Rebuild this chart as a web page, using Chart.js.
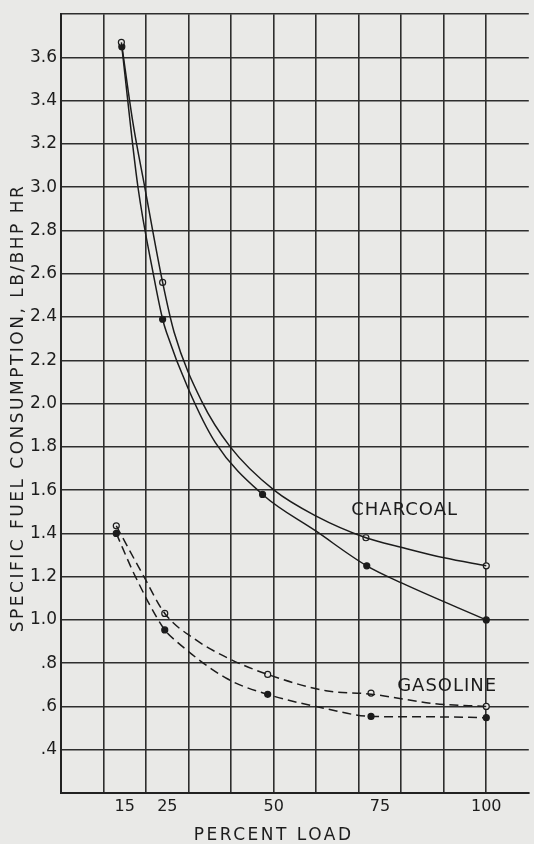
<!DOCTYPE html>
<html>
<head>
<meta charset="utf-8">
<script src="https://cdn.jsdelivr.net/npm/chart.js@4.4.1/dist/chart.umd.min.js"></script>
<style>
  html, body { margin: 0; padding: 0; background: #e9e9e7; }
  #wrap { position: relative; width: 534px; height: 844px; overflow: hidden; }
</style>
</head>
<body>
<div id="wrap"><canvas id="sfc"></canvas></div>
<script>
// plotted test points (percent load vs lb/bhp hr)
const charcoalOpenLoad = [14.2, 23.9, 71.7, 100];
const charcoalOpenSfc = [3.67, 2.56, 1.38, 1.25];
const charcoalDotLoad = [14.3, 23.9, 47.4, 71.9, 100];
const charcoalDotSfc = [3.65, 2.39, 1.58, 1.25, 1.00];
const gasolineOpenLoad = [13, 24.4, 48.6, 72.9, 100];
const gasolineOpenSfc = [1.435, 1.03, 0.748, 0.662, 0.60];
const gasolineDotLoad = [13, 24.4, 48.6, 72.9, 100];
const gasolineDotSfc = [1.40, 0.954, 0.656, 0.554, 0.548];

// the hand-faired curves
const charcoalUpperLoad = [14.2, 16.9, 19.7, 23.9, 26.6, 33.1, 39.8, 50.1, 60, 71.7, 80.2, 90.1, 100];
const charcoalUpperSfc = [3.67, 3.30, 3.00, 2.56, 2.33, 2.01, 1.80, 1.60, 1.48, 1.38, 1.335, 1.287, 1.25];
const charcoalLowerLoad = [14.3, 18.1, 21.7, 23.9, 24.8, 29.9, 36.3, 47.4, 60, 71.9, 80.2, 100];
const charcoalLowerSfc = [3.65, 3.00, 2.60, 2.39, 2.33, 2.07, 1.82, 1.58, 1.41, 1.25, 1.17, 1.00];
const gasolineUpperLoad = [13, 19.5, 24.4, 31.4, 39.1, 48.6, 62.3, 72.9, 87.8, 100];
const gasolineUpperSfc = [1.435, 1.20, 1.03, 0.912, 0.825, 0.748, 0.673, 0.657, 0.613, 0.60];
const gasolineLowerLoad = [13, 17.5, 24.4, 26.9, 39.1, 48.6, 62.3, 72.9, 87.8, 100];
const gasolineLowerSfc = [1.40, 1.20, 0.954, 0.905, 0.728, 0.656, 0.59, 0.554, 0.552, 0.548];

const xTickLabels = [15, 25, 50, 75, 100];
const yTickLabels = ['.4', '.6', '.8', '1.0', '1.2', '1.4', '1.6', '1.8', '2.0', '2.2', '2.4',
  '2.6', '2.8', '3.0', '3.2', '3.4', '3.6'];

const paper = '#e9e9e7';
const ink = '#1c1c1c';
const font = '"DejaVu Sans", sans-serif';

const pts = (xs, ys) => xs.map((x, i) => ({ x, y: ys[i] }));

function curve(xs, ys, dashed) {
  return {
    data: pts(xs, ys),
    borderColor: ink,
    borderWidth: 1.5,
    borderDash: dashed ? [9, 5] : [],
    cubicInterpolationMode: 'monotone',
    pointRadius: 0,
    fill: false,
  };
}

function marks(xs, ys, open) {
  return {
    data: pts(xs, ys),
    showLine: false,
    pointRadius: 3,
    pointBorderWidth: 1.2,
    pointBorderColor: ink,
    pointBackgroundColor: open ? paper : ink,
  };
}

const fmtY = v => {
  const s = v.toFixed(1);
  return v < 1 ? s.slice(1) : s;
};

const textPlugin = {
  id: 'paperText',
  afterDraw(chart) {
    const { ctx, scales: { x, y } } = chart;
    ctx.save();
    ctx.fillStyle = ink;
    ctx.textAlign = 'center';
    ctx.textBaseline = 'middle';

    ctx.font = '17px ' + font;
    ctx.letterSpacing = '2.5px';
    ctx.fillText('PERCENT LOAD', x.getPixelForValue(50), 836);

    ctx.save();
    ctx.translate(19, 408);
    ctx.rotate(-Math.PI / 2);
    ctx.fillText('SPECIFIC FUEL CONSUMPTION, LB/BHP HR', 0, 0);
    ctx.restore();

    ctx.font = '18px ' + font;
    ctx.letterSpacing = '1px';
    ctx.fillText('CHARCOAL', x.getPixelForValue(80.8), y.getPixelForValue(1.505));
    ctx.fillText('GASOLINE', x.getPixelForValue(90.8), y.getPixelForValue(0.693));
    ctx.restore();
  }
};

new Chart(document.getElementById('sfc'), {
  type: 'line',
  data: {
    datasets: [
      curve(charcoalUpperLoad, charcoalUpperSfc, false),
      curve(charcoalLowerLoad, charcoalLowerSfc, false),
      curve(gasolineUpperLoad, gasolineUpperSfc, true),
      curve(gasolineLowerLoad, gasolineLowerSfc, true),
      marks(charcoalOpenLoad, charcoalOpenSfc, true),
      marks(charcoalDotLoad, charcoalDotSfc, false),
      marks(gasolineOpenLoad, gasolineOpenSfc, true),
      marks(gasolineDotLoad, gasolineDotSfc, false),
    ]
  },
  options: {
    responsive: true,
    maintainAspectRatio: false,
    animation: false,
    layout: { padding: { top: 10, right: 0, left: 0, bottom: 0 } },
    plugins: { legend: { display: false }, tooltip: { enabled: false } },
    scales: {
      x: {
        type: 'linear',
        min: 0,
        max: 110,
        afterBuildTicks: s => {
          const t = [];
          for (let v = 0; v <= 100; v += 10) t.push({ value: v });
          xTickLabels.forEach(v => { if (v % 10) t.push({ value: v }); });
          s.ticks = t;
        },
        afterFit: s => { s.height = 51; },
        grid: {
          drawTicks: false,
          lineWidth: 1.6,
          color: c => (c.tick && c.tick.value % 10 === 0) ? '#2e2e2e' : 'rgba(0,0,0,0)',
        },
        border: { color: '#222', width: 2 },
        ticks: {
          padding: 4,
          color: ink,
          autoSkip: false,
          maxRotation: 0,
          font: { family: font, size: 16 },
          callback: v => xTickLabels.includes(v) ? String(v) : '',
        }
      },
      y: {
        min: 0.2,
        max: 3.8,
        afterFit: s => { s.width = 61; },
        grid: { drawTicks: false, lineWidth: 1.6, color: '#2e2e2e' },
        border: { color: '#222', width: 2 },
        ticks: {
          stepSize: 0.2,
          padding: 4,
          color: ink,
          autoSkip: false,
          font: { family: font, size: 17 },
          callback: v => yTickLabels.includes(fmtY(v)) ? fmtY(v) : '',
        }
      }
    }
  },
  plugins: [textPlugin]
});
</script>
</body>
</html>
